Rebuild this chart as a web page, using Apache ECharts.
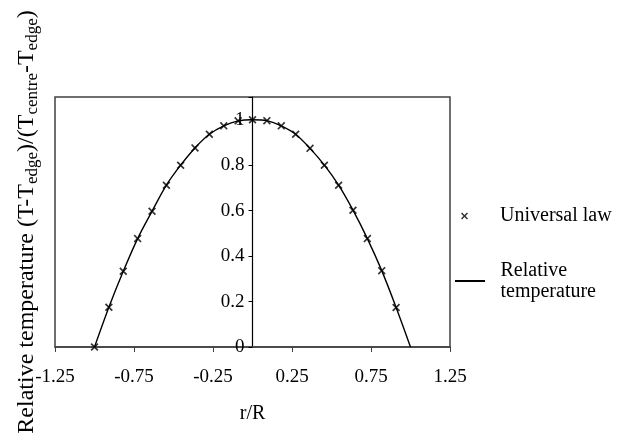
<!DOCTYPE html>
<html>
<head>
<meta charset="utf-8">
<script src="https://cdn.jsdelivr.net/npm/echarts@6/dist/echarts.min.js"></script>
<style>html,body{margin:0;padding:0;background:#fff}#c{width:631px;height:442px}</style>
</head>
<body>
<div id="c"></div>
<script>
// Universal law markers (r/R, relative temperature)
const lawX = [-1.0, -0.909, -0.818, -0.727, -0.636, -0.545, -0.455, -0.364, -0.273, -0.182, -0.091, 0,
              0.091, 0.182, 0.273, 0.364, 0.455, 0.545, 0.636, 0.727, 0.818, 0.909];
const lawY = [0, 0.175, 0.333, 0.477, 0.597, 0.712, 0.800, 0.876, 0.936, 0.973, 0.995, 1.0,
              0.996, 0.973, 0.936, 0.874, 0.800, 0.712, 0.602, 0.477, 0.336, 0.174];
// Relative temperature curve
const tempX = [-1.0, -0.909, -0.818, -0.727, -0.636, -0.545, -0.455, -0.364, -0.273, -0.182, -0.091, 0,
               0.091, 0.182, 0.273, 0.364, 0.455, 0.545, 0.636, 0.727, 0.818, 0.909, 1.0];
const tempY = [0, 0.175, 0.333, 0.477, 0.597, 0.712, 0.800, 0.876, 0.936, 0.973, 0.995, 1.0,
               0.996, 0.973, 0.936, 0.874, 0.800, 0.712, 0.602, 0.477, 0.336, 0.174, 0];
const xMin = -1.25, xMax = 1.25, xStep = 0.5;
const yMin = 0, yMax = 1.1, yStep = 0.2;

const FONT = 'Liberation Serif';
const X_PATH = 'path://M0,1.5L1.5,0L5,3.5L8.5,0L10,1.5L6.5,5L10,8.5L8.5,10L5,6.5L1.5,10L0,8.5L3.5,5Z';
const LINE_ICON = 'path://M0,0L30,0L30,2L0,2Z';

const GRID_LEFT = 55, GRID_RIGHT = 181, CHART_W = 631;
// y axis crosses the x axis at r/R = 0
const plotW = CHART_W - GRID_LEFT - GRID_RIGHT;
const yAxisOffset = -plotW * (0 - xMin) / (xMax - xMin);

const chart = echarts.init(document.getElementById('c'), null, {renderer: 'canvas'});
chart.setOption({
  animation: false,
  backgroundColor: '#fff',
  grid: {left: GRID_LEFT, top: 97, right: GRID_RIGHT, bottom: 95, show: true, borderColor: '#404040', borderWidth: 1.5,
         containLabel: false, outerBoundsMode: 'none'},
  legend: [
    {
      data: [{name: 'Universal law', icon: X_PATH}],
      orient: 'vertical', left: 461, top: 206, padding: 0,
      itemWidth: 7, itemHeight: 7,
      textStyle: {fontFamily: FONT, fontSize: 20, color: '#000', padding: [0, 0, 0, 27]},
      selectedMode: false
    },
    {
      data: [{name: 'Relative temperature', icon: LINE_ICON}],
      orient: 'vertical', left: 455, top: 260, padding: 0,
      itemWidth: 31, itemHeight: 2,
      itemStyle: {color: '#000'},
      formatter: function () { return 'Relative\ntemperature'; },
      textStyle: {fontFamily: FONT, fontSize: 20, lineHeight: 21, color: '#000', padding: [0, 0, 0, 10]},
      selectedMode: false
    }
  ],
  xAxis: {
    type: 'value', min: xMin, max: xMax, interval: xStep,
    name: 'r/R', nameLocation: 'middle', nameGap: 57,
    nameTextStyle: {fontFamily: FONT, fontSize: 20, color: '#000'},
    axisLine: {show: true, onZero: false, lineStyle: {color: '#404040', width: 1.5}},
    axisTick: {show: true, length: 5, lineStyle: {color: '#404040', width: 1}},
    axisLabel: {fontFamily: FONT, fontSize: 19, color: '#000', margin: 21,
      formatter: function (v) { return String(Math.round(v * 100) / 100); }},
    splitLine: {show: false}
  },
  yAxis: {
    type: 'value', min: yMin, max: yMax, interval: yStep,
    offset: yAxisOffset,
    name: '{n|Relative temperature (T-T}{s|edge}{n|)/(T}{s|centre}{n|-T}{s|edge}{n|)}',
    nameLocation: 'middle', nameRotate: 90, nameGap: 211,
    nameTextStyle: {
      color: '#000',
      rich: {
        n: {fontFamily: FONT, fontSize: 24, color: '#000', lineHeight: 30, verticalAlign: 'middle'},
        s: {fontFamily: FONT, fontSize: 17, color: '#000', lineHeight: 17, verticalAlign: 'bottom'}
      }
    },
    axisLine: {show: true, onZero: false, lineStyle: {color: '#000', width: 1.2}},
    axisTick: {show: true, length: 4, lineStyle: {color: '#000', width: 1}},
    axisLabel: {fontFamily: FONT, fontSize: 19, color: '#000', margin: 8,
      formatter: function (v) { return v > 1.0001 ? '' : String(Math.round(v * 10) / 10); }},
    splitLine: {show: false}
  },
  series: [
    {
      name: 'Relative temperature', type: 'line',
      data: tempX.map((x, i) => [x, tempY[i]]),
      symbol: 'none', smooth: 0.3,
      lineStyle: {color: '#000', width: 1.4},
      itemStyle: {color: '#000'},
      z: 2
    },
    {
      name: 'Universal law', type: 'scatter',
      data: lawX.map((x, i) => [x, lawY[i]]),
      symbol: X_PATH, symbolSize: 8,
      itemStyle: {color: '#000'},
      z: 3
    }
  ]
});
</script>
</body>
</html>
